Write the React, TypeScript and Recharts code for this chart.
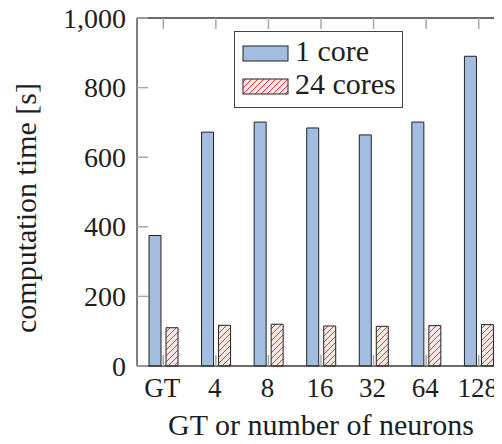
import React from 'react';
import { BarChart, Bar, XAxis, YAxis, Legend } from 'recharts';

const categories = ['GT', '4', '8', '16', '32', '64', '128'];
const oneCore = [375, 672, 701, 684, 664, 701, 890];
const cores24 = [110, 117, 120, 115, 114, 116, 119];
const yTicks = [0, 200, 400, 600, 800, 1000];
const seriesNames = ['1 core', '24 cores'];

const data = categories.map((name, i) => ({ name, one: oneCore[i], many: cores24[i] }));

const FONT = '"Liberation Serif", "Times New Roman", serif';
const TICK_GRAY = '#a8a8a8';
const FRAME = '#3a3a3a';
const BLUE = '#a3bde0';
const PINK = '#fde6e6';
const HATCH = '#e2363c';
const TEXT = '#1e1e1e';
const TL = 11;

function HatchPattern({ id }: { id: string }) {
  return (
    <pattern id={id} patternUnits="userSpaceOnUse" width={6} height={6}>
      <rect width={6} height={6} fill={PINK} />
      <path d="M-1,1 l2,-2 M0,6 l6,-6 M5,7 l2,-2" stroke={HATCH} strokeWidth={1} />
    </pattern>
  );
}

function BottomTick(props: any) {
  const { x, y, payload } = props;
  return (
    <g>
      <line x1={x} x2={x} y1={y} y2={y - TL} stroke={TICK_GRAY} strokeWidth={1.5} />
      <text x={x - 1} y={y + 31} textAnchor="middle" fontFamily={FONT} fontSize={27} fill={TEXT}>
        {payload.value}
      </text>
    </g>
  );
}

function TopTick(props: any) {
  const { x, y } = props;
  return <line x1={x} x2={x} y1={y} y2={y + TL} stroke={TICK_GRAY} strokeWidth={1.5} />;
}

function LeftTick(props: any) {
  const { x, y, payload } = props;
  return (
    <g>
      <line x1={x} x2={x + TL} y1={y} y2={y} stroke={TICK_GRAY} strokeWidth={1.5} />
      <text x={x - 11} y={y + 9.5} textAnchor="end" fontFamily={FONT} fontSize={28} fill={TEXT}>
        {Number(payload.value).toLocaleString('en-US')}
      </text>
    </g>
  );
}

function RightTick(props: any) {
  const { x, y } = props;
  return <line x1={x} x2={x - TL} y1={y} y2={y} stroke={TICK_GRAY} strokeWidth={1.5} />;
}

function LegendBox(props: any) {
  const payload = (props && props.payload) || [];
  const names = payload.length ? payload.map((p: any) => p.value) : seriesNames;
  return (
    <svg width={170} height={78} style={{ display: 'block' }}>
      <defs>
        <HatchPattern id="hatchLegend" />
      </defs>
      <rect x={0.5} y={0.5} width={168} height={76} fill="#fff" stroke="#444" strokeWidth={1} />
      {names.map((n: string, i: number) => (
        <g key={n}>
          <rect
            x={9}
            y={15 + i * 33}
            width={45}
            height={15}
            fill={i === 0 ? BLUE : 'url(#hatchLegend)'}
            stroke="#222"
            strokeWidth={1}
          />
          <text x={61} y={30 + i * 33} fontFamily={FONT} fontSize={30} fill={TEXT}>
            {n}
          </text>
        </g>
      ))}
    </svg>
  );
}

export default function App() {
  return (
    <div style={{ margin: -8, width: 502, height: 444, overflow: 'hidden', background: '#fff' }}>
      <BarChart
        width={519}
        height={444}
        data={data}
        margin={{ top: 0, right: 0, bottom: 0, left: 0 }}
        barSize={12}
        barGap={5}
      >
        <defs>
          <HatchPattern id="hatchBar" />
        </defs>
        <XAxis
          xAxisId="bottom"
          dataKey="name"
          height={78}
          interval={0}
          tickSize={0}
          tickMargin={0}
          stroke={FRAME}
          strokeWidth={1.3}
          tickLine={false}
          tick={BottomTick}
          label={() => (
            <text x={321} y={435} textAnchor="middle" fontFamily={FONT} fontSize={30} fill={TEXT}>
              GT or number of neurons
            </text>
          )}
        />
        <XAxis
          xAxisId="top"
          orientation="top"
          dataKey="name"
          height={18}
          interval={0}
          tickSize={0}
          tickMargin={0}
          stroke={FRAME}
          strokeWidth={1.3}
          tickLine={false}
          tick={TopTick}
        />
        <YAxis
          yAxisId="left"
          width={137}
          domain={[0, 1000]}
          ticks={yTicks}
          interval={0}
          tickSize={0}
          tickMargin={0}
          stroke={FRAME}
          strokeWidth={1.3}
          tickLine={false}
          tick={LeftTick}
          label={() => (
            <text
              x={36}
              y={208}
              transform="rotate(-90 36 208)"
              textAnchor="middle"
              fontFamily={FONT}
              fontSize={30}
              fill={TEXT}
            >
              computation time [s]
            </text>
          )}
        />
        <YAxis
          yAxisId="right"
          orientation="right"
          width={14}
          domain={[0, 1000]}
          ticks={yTicks}
          interval={0}
          tickSize={0}
          tickMargin={0}
          stroke={FRAME}
          strokeWidth={1.3}
          tickLine={false}
          tick={RightTick}
        />
        <Legend
          layout="vertical"
          align="center"
          verticalAlign="middle"
          content={LegendBox}
          wrapperStyle={{ position: 'absolute', left: 234, top: 31, width: 170, height: 78 }}
        />
        <Bar
          xAxisId="bottom"
          yAxisId="left"
          dataKey="one"
          name={seriesNames[0]}
          fill={BLUE}
          stroke="#222"
          strokeWidth={1}
          isAnimationActive={false}
        />
        <Bar
          xAxisId="bottom"
          yAxisId="left"
          dataKey="many"
          name={seriesNames[1]}
          fill="url(#hatchBar)"
          stroke="#222"
          strokeWidth={1}
          isAnimationActive={false}
        />
      </BarChart>
    </div>
  );
}
